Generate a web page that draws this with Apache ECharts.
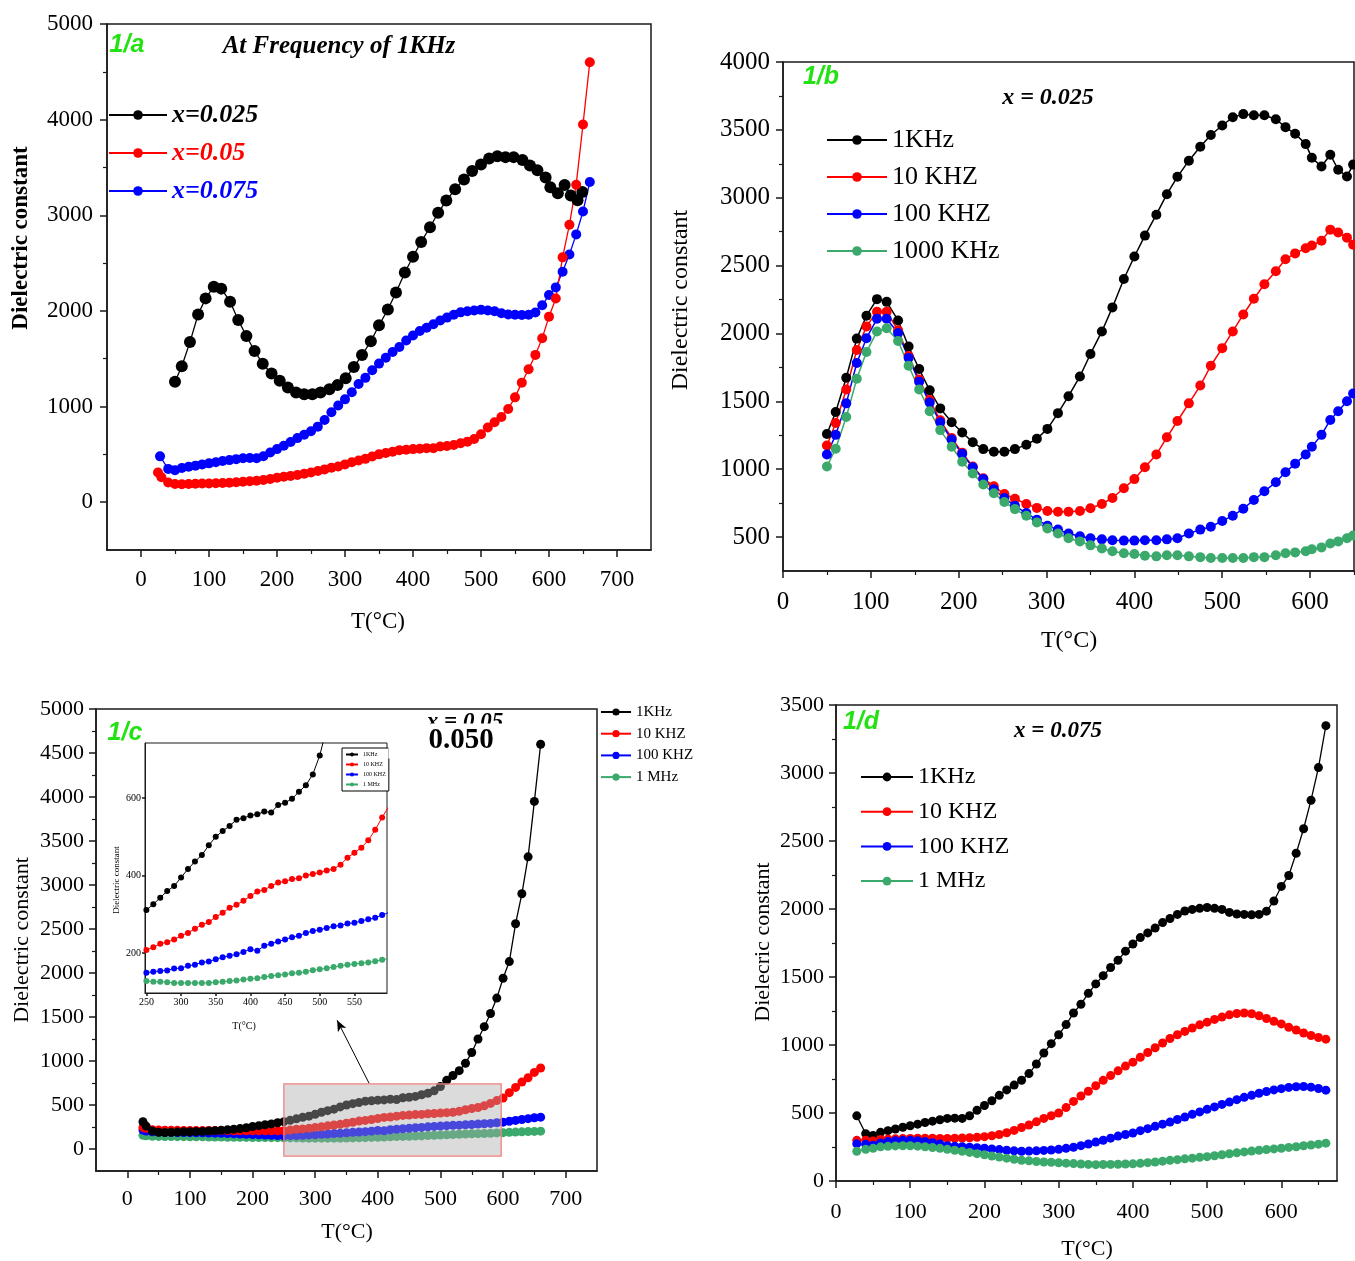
<!DOCTYPE html>
<html><head><meta charset="utf-8">
<script src="https://cdn.jsdelivr.net/npm/echarts@6/dist/echarts.min.js"></script>
<style>html,body{margin:0;padding:0;background:#fff}#c{width:1355px;height:1261px}</style>
</head><body><div id="c"></div>
<script>
// ---------- DATA ----------
// Panel 1/b (x = 0.025) and 1/a black curve: temperatures (°C)
const tB = [50,60,72,84,95,107,118,131,143,155,167,179,192,204,216,228,240,252,264,277,289,301,313,325,338,350,363,375,388,400,412,425,437,449,462,475,487,500,512,524,536,548,561,572,583,595,602,613,623,632,642,649];
const k1KHz = [1259,1422,1674,1962,2131,2253,2233,2096,1904,1738,1581,1448,1346,1270,1198,1148,1128,1128,1148,1180,1224,1297,1413,1538,1683,1849,2015,2192,2401,2567,2721,2875,3026,3154,3273,3375,3462,3532,3593,3616,3608,3608,3578,3520,3471,3395,3294,3230,3317,3206,3157,3244];
const k10KHz = [1174,1340,1587,1878,2052,2160,2160,2023,1834,1660,1509,1360,1230,1122,1020,933,875,817,782,744,715,692,686,686,692,712,744,788,860,927,1015,1108,1235,1355,1485,1616,1762,1892,2015,2140,2256,2363,2459,2547,2590,2628,2648,2683,2765,2744,2706,2654];
const k100KHz = [1108,1253,1485,1782,1965,2108,2108,2003,1820,1645,1491,1346,1218,1113,1015,927,852,788,730,677,628,584,555,526,506,491,483,477,474,474,477,477,483,491,526,555,576,619,657,709,773,837,904,977,1041,1108,1166,1253,1363,1427,1500,1558];
const k1000KHz = [1020,1151,1384,1666,1863,2015,2038,1945,1762,1587,1427,1288,1166,1055,968,887,823,759,706,657,608,564,526,491,468,439,416,395,381,375,363,358,366,366,358,352,346,346,346,346,352,352,366,381,387,395,410,424,453,468,491,512];

// Panel 1/c (x = 0.05) and 1/a red curve
const tC = [25,30,40,50,60,70,80,90,100,110,120,130,140,150,160,170,180,190,200,210,220,230,240,250,260,270,280,290,300,310,320,330,340,350,360,370,380,390,400,410,420,430,440,450,460,470,480,490,500,510,520,530,540,550,560,570,580,590,600,610,620,630,640,650,660];
const c1KHz = [310,260,205,190,188,190,192,195,196,198,200,204,208,213,218,224,232,242,255,265,275,285,298,311,326,343,360,373,395,417,436,453,478,500,515,528,544,548,555,558,565,563,582,588,598,616,633,661,710,780,835,890,975,1096,1250,1390,1540,1715,1940,2130,2560,2900,3320,3950,4600];
const c10KHz = [245,235,220,215,213,212,212,211,211,210,210,210,210,209,209,208,208,208,207,207,207,207,208,208,215,224,228,235,245,252,263,273,280,293,304,317,325,335,347,359,363,373,382,385,391,393,400,404,408,413,417,428,446,459,472,491,518,550,580,640,700,760,810,870,920];
const c100KHz = [215,205,195,192,190,189,188,187,186,185,184,182,180,178,175,172,170,167,164,161,158,155,152,149,152,154,155,160,161,167,170,176,178,184,189,193,197,203,210,206,219,224,230,235,241,245,252,257,260,265,269,271,276,278,283,287,291,298,305,315,325,335,345,355,362];
const c1MHz = [155,150,145,143,142,141,140,140,139,138,138,137,136,135,134,134,133,132,131,131,130,129,129,128,126,126,125,123,123,123,123,123,123,125,126,128,129,132,134,135,138,141,143,145,148,149,152,156,158,161,164,167,170,172,174,176,179,183,186,189,192,195,198,200,203];

// Panel 1/d (x = 0.075) and 1/a blue curve
const tD = [28,40,50,60,70,80,90,100,110,120,130,140,150,160,170,180,190,200,210,220,230,240,250,260,270,280,290,300,310,320,330,340,350,360,370,380,390,400,410,420,430,440,450,460,470,480,490,500,510,520,530,540,550,560,570,580,590,600,610,620,630,640,650,660];
const d1KHz = [479,348,335,358,370,382,395,406,418,430,440,450,460,462,460,480,520,555,590,630,670,705,741,790,860,941,1010,1075,1150,1235,1300,1380,1449,1510,1570,1623,1690,1743,1790,1824,1860,1900,1930,1960,1985,1997,2005,2011,2005,1997,1975,1963,1960,1957,1960,1984,2059,2166,2246,2410,2590,2800,3040,3348];
const d10KHz = [299,300,295,305,308,310,312,313,314,314,314,313,313,314,316,318,322,326,333,342,355,372,393,412,435,460,480,500,540,585,625,660,700,740,775,810,845,874,910,945,980,1015,1048,1075,1100,1125,1148,1168,1188,1205,1222,1232,1235,1230,1215,1195,1175,1155,1130,1110,1088,1070,1055,1043];
const d100KHz = [273,270,262,280,290,296,299,300,296,290,282,272,259,255,252,248,245,241,236,231,226,222,219,220,222,225,228,233,240,248,260,272,286,300,315,330,342,353,370,385,402,418,433,452,470,490,508,527,545,563,580,598,615,630,645,658,670,679,688,693,695,690,680,668];
const d1MHz = [219,233,240,251,255,258,259,259,256,252,246,240,233,226,218,210,201,193,184,176,168,160,152,148,143,140,137,134,131,128,125,122,120,121,122,123,125,126,130,135,140,146,152,157,163,168,174,179,186,193,200,207,214,220,226,231,236,241,247,252,259,265,271,278];

// Tick labels
const ticksA_x = [0,100,200,300,400,500,600,700];
const ticksA_y = [0,1000,2000,3000,4000,5000];
const ticksB_x = [0,100,200,300,400,500,600];
const ticksB_y = [500,1000,1500,2000,2500,3000,3500,4000];
const ticksC_x = [0,100,200,300,400,500,600,700];
const ticksC_y = [0,500,1000,1500,2000,2500,3000,3500,4000,4500,5000];
const ticksD_x = [0,100,200,300,400,500,600];
const ticksD_y = [0,500,1000,1500,2000,2500,3000,3500];
const ticksI_x = [250,300,350,400,450,500,550];
const ticksI_y = [200,400,600];
const minorA_x = [50,150,250,350,450,550,650];
const minorA_y = [500,1500,2500,3500,4500];
const minorB_x = [50,150,250,350,450,550,650];
const minorB_y = [750,1250,1750,2250,2750,3250,3750];
const minorC_x = [50,150,250,350,450,550,650];
const minorC_y = [250,750,1250,1750,2250,2750,3250,3750,4250,4750];
const minorD_x = [50,150,250,350,450,550,650];
const minorD_y = [250,750,1250,1750,2250,2750,3250];

// Zoom box and arrow (panel 1/c annotation, data coords)
const zoomBoxT = [250, 597];
const zoomBoxV = [-80, 740];
const arrowFrom = [386, 748];
const arrowTo = [335, 1463];

// ---------- STYLE ----------
const SERIF = "'Liberation Serif', 'Times New Roman', serif";
const SANS = "'Liberation Sans', Arial, sans-serif";
const BLACK = '#000000', RED = '#ff0000', BLUE = '#0000ff', GREEN = '#3aa96b', LGREEN = '#22e212';
const AX = '#1a1a1a';

function pairs(xs, ys) { return xs.map((x, i) => [x, ys[i]]); }

function axes(gi, dim, min, max, labels, minors, fs, margin) {
  const pos = dim === 'x' ? 'bottom' : 'left';
  const main = {
    type: 'value', gridIndex: gi, min, max, position: pos,
    axisLine: {show: true, onZero: false, lineStyle: {color: AX, width: 1.5}},
    axisTick: {show: true, inside: false, length: 7, customValues: labels, lineStyle: {color: AX, width: 1.5}},
    axisLabel: {show: true, customValues: labels, fontFamily: SERIF, fontSize: fs, color: '#000', margin, formatter: v => String(v)},
    splitLine: {show: false}
  };
  const out = [main];
  if (minors) {
    out.push({
      type: 'value', gridIndex: gi, min, max, position: pos,
      axisLine: {show: false, onZero: false},
      axisTick: {show: true, inside: false, length: 4, customValues: minors, lineStyle: {color: AX, width: 1.2}},
      axisLabel: {show: false}, splitLine: {show: false}
    });
  }
  return out;
}

const xAxes = [].concat(
  axes(0, 'x', -50, 750, ticksA_x, minorA_x, 23, 18),
  axes(1, 'x', 0, 650, ticksB_x, minorB_x, 25, 19),
  axes(2, 'x', -50, 750, ticksC_x, minorC_x, 22, 17),
  axes(3, 'x', 0, 675, ticksD_x, minorD_x, 22, 20),
  axes(4, 'x', 248, 597, ticksI_x, null, 10, 4)
);
const yAxes = [].concat(
  axes(0, 'y', -500, 5000, ticksA_y, minorA_y, 23, 14),
  axes(1, 'y', 250, 4000, ticksB_y, minorB_y, 25, 13),
  axes(2, 'y', -250, 5000, ticksC_y, minorC_y, 22, 12),
  axes(3, 'y', 0, 3500, ticksD_y, minorD_y, 22, 12),
  axes(4, 'y', 97, 742, ticksI_y, null, 10, 4)
);
// inset axis tweaks
xAxes[8].axisTick.length = 3; yAxes[8].axisTick.length = 3;
xAxes[8].axisLine.lineStyle.width = 1; yAxes[8].axisLine.lineStyle.width = 1;

const grids = [
  {left: 107, top: 24, width: 544, height: 526},
  {left: 783, top: 62, width: 571, height: 509},
  {left: 96, top: 709, width: 501, height: 462},
  {left: 836, top: 705, width: 501, height: 476},
  {left: 145, top: 743, width: 242, height: 250, backgroundColor: '#fff', borderWidth: 1}
].map(g => Object.assign({show: true, borderColor: AX, borderWidth: 1.5, containLabel: false}, g));

function ser(name, xs, ys, color, xi, yi, size, lw, z) {
  return {
    type: 'line', name, xAxisIndex: xi, yAxisIndex: yi, data: pairs(xs, ys),
    symbol: 'circle', symbolSize: size, showSymbol: true, showAllSymbol: true,
    lineStyle: {color, width: lw}, itemStyle: {color}, emphasis: {disabled: true},
    z: z || 2, animation: false
  };
}

const series = [
  // 1/a
  ser('x=0.025', tB, k1KHz, BLACK, 0, 0, 12, 1.3),
  ser('x=0.075', tD, d1KHz, BLUE, 0, 0, 10, 1.3),
  ser('x=0.05', tC, c1KHz, RED, 0, 0, 10, 1.3),
  // 1/b
  ser('1KHz', tB, k1KHz, BLACK, 2, 2, 10, 1.5),
  ser('10 KHZ', tB, k10KHz, RED, 2, 2, 10, 1.5),
  ser('100 KHZ', tB, k100KHz, BLUE, 2, 2, 10, 1.5),
  ser('1000 KHz', tB, k1000KHz, GREEN, 2, 2, 10, 1.5),
  // 1/c
  ser('1MHzC', tC, c1MHz, GREEN, 4, 4, 9, 1.3),
  ser('100C', tC, c100KHz, BLUE, 4, 4, 9, 1.3),
  ser('10C', tC, c10KHz, RED, 4, 4, 9, 1.3),
  ser('1KHz', tC, c1KHz, BLACK, 4, 4, 9, 1.3),
  // 1/d
  ser('1KHz', tD, d1KHz, BLACK, 6, 6, 9, 1.3),
  ser('10 KHZ', tD, d10KHz, RED, 6, 6, 9, 1.3),
  ser('100 KHZ', tD, d100KHz, BLUE, 6, 6, 9, 1.3),
  ser('1 MHz', tD, d1MHz, GREEN, 6, 6, 9, 1.3),
  // inset
  ser('1KHz', tC, c1KHz, BLACK, 8, 8, 6, 1),
  ser('10 KHZ', tC, c10KHz, RED, 8, 8, 6, 1),
  ser('100 KHZ', tC, c100KHz, BLUE, 8, 8, 6, 1),
  ser('1 MHz', tC, c1MHz, GREEN, 8, 8, 6, 1),
  // annotation: zoom box + arrow in 1/c
  {
    type: 'line', name: 'zoombox', xAxisIndex: 4, yAxisIndex: 4, data: [], z: 10, silent: true, animation: false,
    markArea: {z: 10, silent: true, itemStyle: {color: 'rgba(170,170,170,0.42)', borderColor: '#f08080', borderWidth: 1.3},
      data: [[{coord: [zoomBoxT[0], zoomBoxV[0]]}, {coord: [zoomBoxT[1], zoomBoxV[1]]}]]},
    markLine: {z: 10, silent: true, symbol: ['none', 'arrow'], symbolSize: [7, 11], animation: false,
      lineStyle: {color: '#000', width: 1, type: 'solid'}, label: {show: false},
      data: [[{coord: arrowFrom}, {coord: arrowTo}]]}
  }
];

function lg(left, top, iw, ih, gap, fs, lh, data, extra) {
  return Object.assign({
    left, top, orient: 'vertical', itemWidth: iw, itemHeight: ih, itemGap: gap, selectedMode: false, padding: 0,
    textStyle: {fontFamily: SERIF, fontSize: fs, lineHeight: lh, color: '#000'}, data
  }, extra || {});
}

const legends = [
  lg(108, 102, 58, 12, 12, 26, 26, [
    {name: 'x=0.025', textStyle: {color: BLACK, fontStyle: 'italic', fontWeight: 'bold'}},
    {name: 'x=0.05', textStyle: {color: RED, fontStyle: 'italic', fontWeight: 'bold'}},
    {name: 'x=0.075', textStyle: {color: BLUE, fontStyle: 'italic', fontWeight: 'bold'}}]),
  lg(826, 127, 60, 12, 11, 26, 26, ['1KHz', '10 KHZ', '100 KHZ', '1000 KHz']),
  lg(600, 703, 30, 9, 3.7, 15, 18, ['1KHz', '10 KHZ', '100 KHZ', '1 MHz']),
  lg(860, 765, 52, 11, 10.7, 24, 24, ['1KHz', '10 KHZ', '100 KHZ', '1 MHz']),
  lg(342, 748, 12, 5, 3, 6, 7, ['1KHz', '10 KHZ', '100 KHZ', '1 MHz'],
     {padding: [3, 3, 3, 3], borderColor: '#000', borderWidth: 1, backgroundColor: '#fff'})
];

function txt(x, y, text, o) {
  o = o || {};
  return {
    type: 'text', x, y, rotation: o.rot || 0, z: 100, silent: true,
    style: Object.assign({
      text, fill: o.color || '#000', fontFamily: o.family || SERIF, fontSize: o.size || 22,
      fontWeight: o.weight || 'normal', fontStyle: o.style || 'normal',
      textAlign: 'center', textVerticalAlign: 'middle', align: 'center', verticalAlign: 'middle'
    }, o.extra || {})
  };
}
const R = Math.PI / 2;
const tag = {family: SANS, size: 25, style: 'italic', weight: 'bold', color: LGREEN};
const graphics = [
  // 1/a
  txt(21, 238, 'Dielectric constant', {rot: R, size: 23, weight: 'bold'}),
  txt(378, 622, 'T(°C)', {size: 23}),
  txt(127, 45, '1/a', tag),
  txt(339, 47, 'At Frequency of 1KHz', {size: 25, style: 'italic', weight: 'bold'}),
  // 1/b
  txt(681, 300, 'Dielectric constant', {rot: R, size: 24}),
  txt(1069, 641, 'T(°C)', {size: 24}),
  txt(821, 77, '1/b', tag),
  txt(1048, 98, 'x = 0.025', {size: 24, style: 'italic', weight: 'bold'}),
  // 1/c
  txt(22, 940, 'Dielectric constant', {rot: R, size: 22}),
  txt(347, 1232, 'T(°C)', {size: 22}),
  txt(125, 733, '1/c', tag),
  txt(465, 722, 'x = 0.05', {size: 23, style: 'italic', weight: 'bold'}),
  txt(461, 741, '0.050', {size: 29, weight: 'bold', extra: {backgroundColor: '#fff', padding: [3, 40, 3, 40]}}),
  txt(117, 880, 'Dielectric constant', {rot: R, size: 9}),
  txt(244, 1026, 'T(°C)', {size: 10}),
  // 1/d
  txt(763, 942, 'Dielecric constant', {rot: R, size: 22}),
  txt(1087, 1249, 'T(°C)', {size: 22}),
  txt(861, 722, '1/d', tag),
  txt(1058, 731, 'x = 0.075', {size: 23, style: 'italic', weight: 'bold'})
];

const chart = echarts.init(document.getElementById('c'), null, {renderer: 'canvas'});
chart.setOption({
  animation: false,
  backgroundColor: '#fff',
  grid: grids,
  xAxis: xAxes,
  yAxis: yAxes,
  legend: legends,
  series: series,
  graphic: graphics
});
</script></body></html>
